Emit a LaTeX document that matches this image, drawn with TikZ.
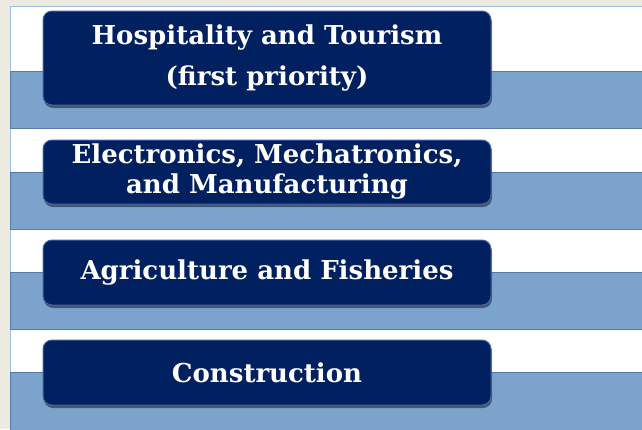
\documentclass[tikz,border=0pt]{standalone}
\usepackage{fontspec}
\setmainfont{DejaVu Serif}
\usepackage{tikz}
\usetikzlibrary{positioning,shadows}

\definecolor{pagebg}{RGB}{237,235,224}
\definecolor{navy}{RGB}{0,32,96}
\definecolor{navyedge}{RGB}{70,100,165}
\definecolor{bandblue}{RGB}{124,163,204}
\definecolor{bandedge}{RGB}{88,122,168}
\definecolor{panedge}{RGB}{160,190,225}

\tikzset{
  band/.style={fill=bandblue,draw=bandedge,line width=0.8pt},
  sector/.style={draw=navyedge,line width=1pt,fill=navy,rounded corners=9pt,
    text=white,align=center,inner sep=0pt,minimum width=448pt,
    drop shadow={shadow xshift=1pt,shadow yshift=-3pt,opacity=.45,fill=black}},
}

\begin{document}
\begin{tikzpicture}[x=1pt,y=-1pt]
\useasboundingbox (0,0) rectangle (642,429);
\fill[pagebg] (0,0) rectangle (642,429);
\draw[fill=white,draw=panedge] (10,6) rectangle (643,430);
\foreach \t/\b in {71/128,172/229,272/329,372/430}
  \draw[band] (10,\t) rectangle (643,\b);
\node[sector,minimum height=94pt,font=\bfseries\fontsize{26}{41}\selectfont](hosp)at(267,58){Hospitality and Tourism\\(first priority)};
\node[sector,minimum height=64pt,font=\bfseries\fontsize{26}{30}\selectfont](elec)at(267,172){Electronics, Mechatronics,\\and Manufacturing};
\node[sector,minimum height=65pt,font=\bfseries\fontsize{26}{30}\selectfont](agri)at(267,272.5){Agriculture and Fisheries};
\node[sector,minimum height=65pt,font=\bfseries\fontsize{26}{30}\selectfont](cons)at(267,372.5){Construction};
\end{tikzpicture}
\end{document}
